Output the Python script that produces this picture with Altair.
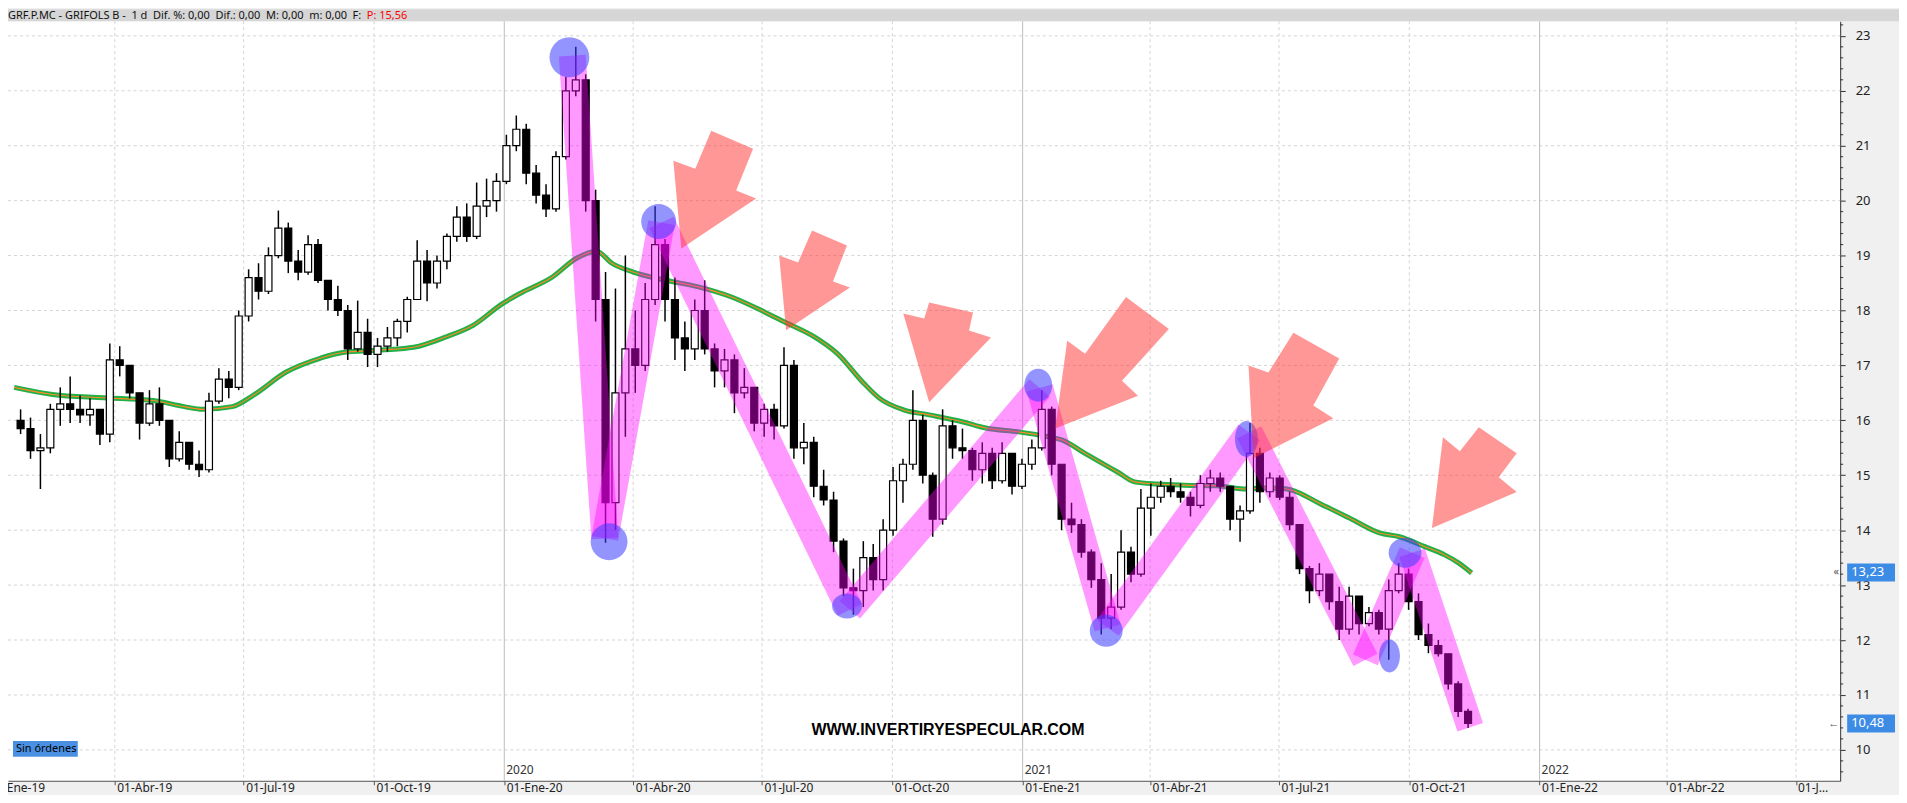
import altair as alt
import pandas as pd

W, H = 1838, 762
TOP, BOT, RIGHT = 12, 13, 59

# ---------------- data ----------------
week_centers_start = "2019-01-24 12:00"   # weekly candles, centre of each week
opens = [16.0,15.85,15.45,15.5,16.2,16.3,16.2,16.1,16.2,15.75,
         17.1,17.0,16.5,15.95,16.3,16.0,15.3,15.6,15.2,15.1,
         16.35,16.75,16.6,17.9,18.6,18.35,19.0,19.5,18.9,18.7,
         19.2,18.55,18.2,18.0,17.3,17.6,17.2,17.35,17.5,17.8,
         18.2,18.9,18.5,18.9,19.35,19.7,19.35,19.9,20.0,20.35,
         21.0,21.3,20.5,20.1,19.85,20.8,22.0,22.2,20.0,18.2,
         14.5,16.5,17.3,17.0,18.2,19.2,18.2,17.5,17.3,18.0,
         17.3,16.9,17.1,16.5,16.6,15.95,16.2,15.9,17.0,15.5,
         15.6,14.8,14.55,13.8,12.95,12.9,13.5,13.1,14.0,14.9,
         15.2,16.0,15.0,14.2,15.9,15.5,15.45,15.1,15.4,14.9,
         15.4,14.8,15.2,15.5,16.2,15.2,14.2,14.1,13.6,13.1,
         12.4,12.6,13.6,13.2,14.4,14.6,14.8,14.7,14.6,14.45,
         14.85,14.95,14.8,14.2,14.35,15.4,14.7,14.95,14.6,14.1,
         13.3,12.9,13.2,12.7,12.2,12.8,12.3,12.5,12.2,12.9,
         13.2,12.7,12.1,11.9,11.75,11.2,10.7]
highs = [16.2,16.05,15.75,16.3,16.6,16.8,16.45,16.4,16.2,17.4,
         17.35,17.0,16.5,16.55,16.6,16.0,15.8,15.6,15.45,16.5,
         16.95,16.9,18.0,18.75,18.86,19.15,19.82,19.6,19.1,19.37,
         19.3,18.55,18.45,18.1,18.18,17.85,17.5,17.7,17.85,18.25,
         19.28,19.1,19.0,19.4,19.9,19.95,20.33,20.4,20.5,21.2,
         21.55,21.4,20.65,20.3,20.9,22.25,22.8,22.3,20.2,18.7,
         18.4,19.0,18.0,18.5,19.9,19.3,18.6,17.8,18.2,18.55,
         17.4,17.3,17.2,16.95,16.6,16.3,16.3,17.33,17.1,15.95,
         15.7,15.1,14.7,13.85,13.3,13.8,13.75,14.2,15.15,15.3,
         16.55,16.1,15.05,16.2,16.0,15.85,15.5,15.6,15.5,15.6,
         15.4,15.3,15.65,16.55,16.25,15.2,14.5,14.2,13.65,13.4,
         13.2,14.0,13.7,14.75,14.85,14.9,14.95,14.85,14.7,15.0,
         15.1,15.05,14.8,14.45,15.95,15.5,15.05,15.0,14.7,14.1,
         13.35,13.4,13.2,12.97,12.97,12.8,12.6,12.55,13.1,13.4,
         13.3,12.85,12.3,12.0,11.75,11.25,10.75]
lows = [15.75,15.3,14.75,15.4,15.9,15.95,15.95,15.9,15.55,15.6,
        16.8,16.4,15.65,15.9,15.9,15.15,15.25,15.1,14.97,15.05,
        16.3,16.4,16.55,17.8,18.2,18.3,18.95,18.68,18.55,18.65,
        18.5,18.0,17.9,17.1,17.25,16.97,16.97,17.25,17.35,17.6,
        18.2,18.17,18.4,18.75,19.25,19.25,19.3,19.7,19.8,20.3,
        20.9,20.3,19.95,19.7,19.8,20.75,21.9,19.8,17.8,13.77,
        14.0,15.7,16.5,16.9,18.1,17.8,17.1,16.9,17.1,17.2,
        16.6,16.6,16.13,16.4,15.8,15.7,15.65,15.85,15.3,15.2,
        14.6,14.45,13.6,12.8,12.46,12.6,12.9,12.9,13.9,14.5,
        15.1,14.85,13.88,14.1,15.3,15.3,14.9,14.85,14.75,14.85,
        14.65,14.75,15.1,15.45,15.0,14.0,13.95,13.5,12.95,12.1,
        12.2,12.55,13.05,13.15,13.9,14.5,14.6,14.5,14.25,14.4,
        14.7,14.7,14.0,13.79,14.3,14.5,14.6,14.55,14.0,13.2,
        12.67,12.8,12.55,12.0,12.1,12.1,12.25,12.1,11.64,12.85,
        12.55,12.0,11.76,11.7,11.1,10.6,10.4]
closes = [15.85,15.45,15.5,16.2,16.3,16.2,16.1,16.2,15.75,17.1,
          17.0,16.5,15.95,16.3,16.0,15.3,15.6,15.2,15.1,16.35,
          16.75,16.6,17.9,18.6,18.35,19.0,19.5,18.9,18.7,19.2,
          18.55,18.2,18.0,17.3,17.6,17.2,17.35,17.5,17.8,18.2,
          18.9,18.5,18.9,19.35,19.7,19.35,19.9,20.0,20.35,21.0,
          21.3,20.5,20.1,19.85,20.8,22.0,22.2,20.0,18.2,14.5,
          16.5,17.3,17.0,18.2,19.2,18.2,17.5,17.3,18.0,17.3,
          16.9,17.1,16.5,16.6,15.95,16.2,15.9,17.0,15.5,15.6,
          14.8,14.55,13.8,12.95,12.9,13.5,13.1,14.0,14.9,15.2,
          16.0,15.0,14.2,15.9,15.5,15.45,15.1,15.4,14.9,15.4,
          14.8,15.2,15.5,16.2,15.2,14.2,14.1,13.6,13.1,12.4,
          12.6,13.6,13.2,14.4,14.6,14.8,14.7,14.6,14.45,14.85,
          14.95,14.8,14.2,14.35,15.4,14.7,14.95,14.6,14.1,13.3,
          12.9,13.2,12.7,12.2,12.8,12.3,12.5,12.2,12.9,13.2,
          12.7,12.1,11.9,11.75,11.2,10.7,10.48]

ma_dates = ["2019-01-20","2019-02-16","2019-03-24","2019-04-28","2019-05-20","2019-06-02",
            "2019-06-23","2019-07-08","2019-07-31","2019-08-24","2019-09-08","2019-10-06",
            "2019-10-29","2019-11-21","2019-12-10","2019-12-31","2020-01-12","2020-02-04",
            "2020-02-21","2020-03-06","2020-03-17","2020-04-01","2020-04-24","2020-05-17",
            "2020-06-09","2020-07-03","2020-07-17","2020-08-07","2020-08-23","2020-09-11",
            "2020-09-22","2020-10-09","2020-10-27","2020-11-20","2020-12-06","2020-12-29",
            "2021-01-17","2021-01-29","2021-02-14","2021-02-26","2021-03-09","2021-03-21",
            "2021-04-06","2021-04-25","2021-05-18","2021-06-06","2021-06-22","2021-07-04",
            "2021-08-03","2021-08-22","2021-09-10","2021-09-24","2021-10-12","2021-10-26",
            "2021-11-05","2021-11-14"]
ma_vals = [16.60,16.47,16.41,16.36,16.25,16.20,
           16.25,16.46,16.88,17.13,17.23,17.28,
           17.33,17.52,17.73,18.13,18.31,18.61,
           18.95,19.08,18.86,18.70,18.55,18.43,
           18.25,17.97,17.79,17.52,17.22,16.67,
           16.40,16.19,16.10,15.97,15.86,15.79,
           15.71,15.64,15.40,15.22,15.06,14.88,
           14.84,14.82,14.81,14.75,14.77,14.76,
           14.43,14.19,13.95,13.88,13.70,13.55,
           13.40,13.22]

zig_dates = ["2020-02-18","2020-03-12","2020-04-21","2020-09-01","2021-01-13",
             "2021-03-02","2021-06-10","2021-08-31","2021-10-03","2021-11-13"]
zig_vals = [22.64,13.85,19.60,12.55,16.59,12.22,15.78,11.64,13.59,10.41]

dot_dates = ["2020-02-16","2020-03-15","2020-04-19","2020-08-30","2021-01-12",
             "2021-03-01","2021-06-08","2021-09-17","2021-09-28"]
dot_vals = [22.61,13.79,19.62,12.62,16.64,12.17,15.66,11.71,13.59]
dot_w = [40,37,35,30,28,33,23,21,33]
dot_h = [40,37,35,25,33,32,36,33,30]

arrow_dates = ["2020-05-05","2020-07-18","2020-10-27","2021-01-24","2021-06-13","2021-10-17"]
arrow_vals = [19.13,17.64,16.33,15.85,15.31,14.04]
arrow_shapes = [
    "M0,0 L-8,-88 L14,-80 L30,-118 L72,-100 L55,-58 L75,-50 Z",
    "M0,0 L-7,-75 L12,-68 L26,-100 L61,-85 L47,-49 L64,-43 Z",
    "M0,0 L-26,-89 L-5,-84 L0,-100 L44,-90 L40,-72 L62,-65 Z",
    "M0,0 L12,-88 L30,-75 L71,-132 L114,-100 L67,-48 L83,-33 Z",
    "M0,0 L-5,-93 L15,-86 L40,-126 L86,-100 L60,-53 L80,-40 Z",
    "M0,0 L11,-91 L28,-77 L47,-101 L85,-75 L67,-51 L85,-36 Z",
]

price_ticks = list(range(10, 24))
quarter_ticks = [(2019, 4), (2019, 7), (2019, 10), (2020, 1), (2020, 4), (2020, 7), (2020, 10),
                 (2021, 1), (2021, 4), (2021, 7), (2021, 10), (2022, 1), (2022, 4), (2022, 7)]
years = ["2020", "2021", "2022"]
tag_prices = [13.23, 10.48]
tag_texts = ["13,23", "10,48"]
tag_marks = ["«", "←"]
header_text = "GRF.P.MC - GRIFOLS B -\u00a0 1 d\u00a0 Dif. %: 0,00\u00a0 Dif.: 0,00\u00a0 M: 0,00\u00a0 m: 0,00\u00a0 F:"
header_red = "P: 15,56"
watermark = "WWW.INVERTIRYESPECULAR.COM"
first_label, first_date = "01-Ene-19", "2019-01-01"
last_label, last_date = "01-Jul-22", "2022-07-01"

# ---------------- scales & shared axes ----------------
FONT = "Noto Sans"
xscale = alt.Scale(domain=[alt.DateTime(year=2019, month=1, date=19, hours=3),
                           alt.DateTime(year=2022, month=7, date=28, hours=17)], nice=False)
yscale = alt.Scale(domain=[9.437, 23.267], nice=False, zero=False)

month_expr = ("year(datum.value) == 2022 && month(datum.value) == 6 ? '' : "
              "'01-' + ['Ene','Feb','Mar','Abr','May','Jun','Jul','Ago','Sep','Oct','Nov','Dic']"
              "[month(datum.value)] + '-' + timeFormat(datum.value, '%y')")
xaxis = alt.Axis(orient="bottom", values=[alt.DateTime(year=y, month=m, date=1) for y, m in quarter_ticks],
                 labelExpr=month_expr, grid=False, domain=True, domainColor="#555",
                 ticks=True, tickColor="#555", tickSize=4, labelAlign="left",
                 labelBaseline="middle", labelPadding=3, labelOffset=2,
                 labelFontSize=12, labelFont=FONT, labelColor="#222",
                 labelOverlap=False, labelBound=False, labelFlush=False, title=None)
yaxis = alt.Axis(orient="right", values=price_ticks, format="d", grid=False,
                 domain=True, domainColor="#333", ticks=True, tickColor="#333",
                 tickSize=5, labelPadding=10, labelFontSize=13, labelFont=FONT,
                 labelColor="#222", title=None)


def X(f):
    return alt.X(f, type="temporal", scale=xscale, axis=xaxis, title=None)


def Y(f):
    return alt.Y(f, type="quantitative", scale=yscale, axis=yaxis, title=None)


one = pd.DataFrame({"a": [0]})

candles = pd.DataFrame({
    "t": pd.date_range(week_centers_start, periods=len(closes), freq="7D"),
    "o": opens, "h": highs, "l": lows, "c": closes})
ma = pd.DataFrame({"t": pd.to_datetime(ma_dates), "v": ma_vals})
segs = []
for i in range(len(zig_dates) - 1):
    segs.append({"s": i, "t": pd.Timestamp(zig_dates[i]), "p": zig_vals[i]})
    segs.append({"s": i, "t": pd.Timestamp(zig_dates[i + 1]), "p": zig_vals[i + 1]})
zig = pd.DataFrame(segs)

shp, szs = [], []
for w, h in zip(dot_w, dot_h):
    m = max(w, h)
    a, b = w / m, h / m
    if w == h:
        shp.append("circle")
    else:
        shp.append(f"M0,-{b:.3f} A{a:.3f},{b:.3f} 0 1,1 0,{b:.3f} A{a:.3f},{b:.3f} 0 1,1 0,-{b:.3f} Z")
    szs.append(m * m)
dots = pd.DataFrame({"t": pd.to_datetime(dot_dates), "p": dot_vals, "shp": shp, "sz": szs})
arrows = pd.DataFrame({"t": pd.to_datetime(arrow_dates), "p": arrow_vals, "shp": arrow_shapes})

qdates = [pd.Timestamp(year=y, month=m, day=1) for y, m in quarter_ticks]
qgrid = pd.DataFrame({"t": [d for d in qdates if d.month != 1]})
ygrid = pd.DataFrame({"t": [d for d in qdates if d.month == 1], "y": years})
hgrid = pd.DataFrame({"g": price_ticks})
minor = pd.DataFrame({"g": [round(9.6 + 0.2 * i, 1) for i in range(69)
                            if abs(9.6 + 0.2 * i - round(9.6 + 0.2 * i)) > 0.05]})
tags = pd.DataFrame({"p": tag_prices, "txt": tag_texts, "mk": tag_marks})
firstlab = pd.DataFrame({"t": [pd.Timestamp(first_date)], "txt": [first_label]})
lastlab = pd.DataFrame({"t": [pd.Timestamp(last_date)], "txt": [last_label]})

# ---------------- layers ----------------
hgrid_l = alt.Chart(hgrid).mark_rule(color="#d4d4d4", strokeDash=[3, 3], strokeWidth=1).encode(
    y=Y("g"), x=alt.value(0), x2=alt.value(W))
qgrid_l = alt.Chart(qgrid).mark_rule(color="#d4d4d4", strokeDash=[3, 3], strokeWidth=1).encode(
    x=X("t"), y=alt.value(0), y2=alt.value(H))
ygrid_l = alt.Chart(ygrid).mark_rule(color="#bdbdbd", strokeWidth=1).encode(
    x=X("t"), y=alt.value(0), y2=alt.value(H))
year_txt = alt.Chart(ygrid).mark_text(align="left", baseline="middle", dx=2, fontSize=12,
                                      font=FONT, color="#333").encode(
    x=X("t"), y=alt.value(H - 11), text="y:N")

ma_green = alt.Chart(ma).mark_line(color="#22b04a", strokeWidth=5, interpolate="monotone").encode(
    x=X("t"), y=Y("v"))
ma_orange = alt.Chart(ma).mark_line(color="#ff8a20", strokeWidth=1.1, interpolate="monotone").encode(
    x=X("t"), y=Y("v"))

wicks = alt.Chart(candles).mark_rule(color="black", strokeWidth=1.5).encode(
    x=X("t"), y=Y("l"), y2="h")
bodies = alt.Chart(candles).mark_bar(size=7, stroke="black", strokeWidth=1.2).encode(
    x=X("t"), y=Y("o"), y2="c",
    fill=alt.condition("datum.c >= datum.o", alt.value("white"), alt.value("black")))

zig_l = alt.Chart(zig).mark_line(color="#ff00ff", strokeWidth=27, strokeCap="butt",
                                 opacity=0.4).encode(
    x=X("t"), y=Y("p"), detail="s:N")

dots_l = alt.Chart(dots).mark_point(filled=True, color="#3c3cff", opacity=0.55, strokeWidth=0).encode(
    x=X("t"), y=Y("p"), shape=alt.Shape("shp:N", scale=None), size=alt.Size("sz:Q", scale=None))

arrows_l = alt.Chart(arrows).mark_point(filled=True, color="#ff3030", opacity=0.5, strokeWidth=0,
                                        size=4).encode(
    x=X("t"), y=Y("p"), shape=alt.Shape("shp:N", scale=None))

wm = alt.Chart(one).mark_text(align="center", baseline="middle", fontSize=16, fontWeight="bold",
                              font="Liberation Sans", color="black").encode(
    x=alt.value(943), y=alt.value(711), text=alt.value(watermark))

sin_box = alt.Chart(one).mark_rect(color="#4a90e2").encode(
    x=alt.value(5), x2=alt.value(70), y=alt.value(722), y2=alt.value(738))
sin_txt = alt.Chart(one).mark_text(align="left", baseline="middle", fontSize=11, font=FONT,
                                   color="black").encode(
    x=alt.value(8), y=alt.value(730), text=alt.value("Sin órdenes"))

header = alt.Chart(one).mark_rect(color="#d6d6d6").encode(
    x=alt.value(0), x2=alt.value(W + RIGHT), y=alt.value(-TOP), y2=alt.value(0))
head_txt = alt.Chart(one).mark_text(align="left", baseline="middle", fontSize=11, font=FONT,
                                    color="#111").encode(
    x=alt.value(0), y=alt.value(-5.5), text=alt.value(header_text))
head_red = alt.Chart(one).mark_text(align="left", baseline="middle", fontSize=11, font=FONT,
                                    color="#ff0000").encode(
    x=alt.value(360), y=alt.value(-5.5), text=alt.value(header_red))

minor_l = alt.Chart(minor).mark_rule(color="#333", strokeWidth=1).encode(
    y=Y("g"), x=alt.value(W), x2=alt.value(W + 3))

tag_box = alt.Chart(tags).mark_point(filled=True, color="#3c8ce6", opacity=1, strokeWidth=0,
                                     shape="M-1.2,-0.45 L1.2,-0.45 L1.2,0.45 L-1.2,0.45 Z",
                                     size=1600).encode(
    x=alt.value(W + 31), y=Y("p"))
tag_txt = alt.Chart(tags).mark_text(align="left", baseline="middle", fontSize=13, font=FONT,
                                    color="white").encode(
    x=alt.value(W + 11), y=Y("p"), text="txt:N")
tag_arrow = alt.Chart(tags).mark_text(align="right", baseline="middle", fontSize=11, font=FONT,
                                      color="#555").encode(
    x=alt.value(W - 1), y=Y("p"), text="mk:N")

first_lab = alt.Chart(firstlab).mark_text(align="left", baseline="middle", dx=2, fontSize=12,
                                          font=FONT, color="#222").encode(
    x=X("t"), y=alt.value(H + 7), text="txt:N")
last_lab = alt.Chart(lastlab).mark_text(align="left", baseline="middle", dx=2, fontSize=12,
                                        font=FONT, color="#222", limit=31, ellipsis="").encode(
    x=X("t"), y=alt.value(H + 7), text="txt:N")

chart = alt.layer(
    hgrid_l, qgrid_l, ygrid_l, year_txt,
    ma_green, ma_orange, wicks, bodies, zig_l, dots_l, arrows_l,
    wm, sin_box, sin_txt, header, head_txt, head_red,
    minor_l, tag_box, tag_txt, tag_arrow, first_lab, last_lab
).properties(
    width=W, height=H,
    autosize=alt.AutoSizeParams(type="none"),
    padding={"left": 0, "top": TOP, "right": RIGHT, "bottom": BOT},
    background="#f0f0f0",
).configure_view(stroke=None, fill="white")

chart.save("out.html", embed_options={"renderer": "svg", "actions": False})
